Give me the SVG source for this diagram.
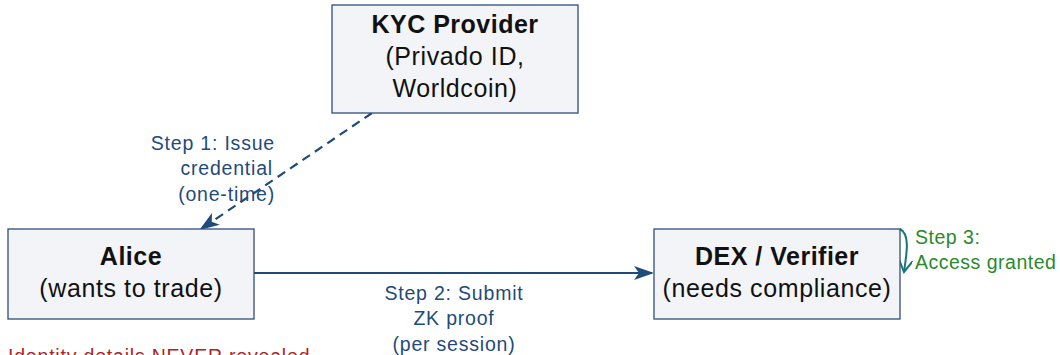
<svg xmlns="http://www.w3.org/2000/svg" width="1060" height="355" viewBox="0 0 1060 355">
<defs>
<style>
.box{fill:#f3f4f7;stroke:#2e4f7a;stroke-width:1.3}
.t{font-family:"Liberation Sans",Arial,sans-serif;font-size:25px;fill:#111;text-anchor:middle;letter-spacing:0.6px}
.b{font-weight:bold;letter-spacing:0.5px}
.lbl{font-family:"Liberation Sans",Arial,sans-serif;font-size:19.5px;fill:#1f4b7a;letter-spacing:0.8px}
.edge{fill:none;stroke:#1f4b7a;stroke-width:2.2}
</style>
<marker id="ahb" viewBox="0 0 20 14" refX="18" refY="7" markerWidth="20" markerHeight="14" markerUnits="userSpaceOnUse" orient="auto">
<path d="M0,0 L20,7 L0,14 L5,7 z" fill="#1f4b7a"/>
</marker>
<marker id="aht" viewBox="0 0 14 14" refX="12" refY="7" markerWidth="14" markerHeight="14" markerUnits="userSpaceOnUse" orient="auto">
<path d="M0,0 L12,7 L0,14" fill="none" stroke="#16777a" stroke-width="2"/>
</marker>
</defs>
<g id="connectors">
<path class="edge" d="M372,113 L201,229" stroke-dasharray="9,6" marker-end="url(#ahb)"/>
<path class="edge" d="M254,273 L652,273" marker-end="url(#ahb)"/>
<path d="M900,229 C910,234 907,252 904,272" fill="none" stroke="#16777a" stroke-width="2" marker-end="url(#aht)"/>
<text class="lbl" text-anchor="end"><tspan x="275" y="150">Step 1:  Issue</tspan><tspan x="273" y="175">credential</tspan><tspan x="275" y="201">(one-time)</tspan></text>
<text class="lbl" text-anchor="middle"><tspan x="454" y="300">Step 2:  Submit</tspan><tspan x="454" y="325">ZK proof</tspan><tspan x="454" y="351">(per session)</tspan></text>
<text class="lbl" style="fill:#2a8a2a;letter-spacing:0.5px"><tspan x="915" y="244">Step 3:</tspan><tspan x="915" y="269">Access granted</tspan></text>
</g>
<g id="kyc">
<rect class="box" x="332" y="5" width="246" height="108"/>
<text class="t b" x="455" y="33">KYC Provider</text>
<text class="t" x="455" y="65">(Privado ID,</text>
<text class="t" x="455" y="97">Worldcoin)</text>
</g>
<g id="alice">
<rect class="box" x="8" y="229" width="246" height="90"/>
<text class="t b" x="131" y="265">Alice</text>
<text class="t" x="131" y="297">(wants to trade)</text>
</g>
<g id="dex">
<rect class="box" x="654" y="229" width="246" height="90"/>
<text class="t b" x="777" y="265">DEX / Verifier</text>
<text class="t" x="777" y="297">(needs compliance)</text>
</g>
<text x="8" y="363" style="font-family:'Liberation Sans',Arial,sans-serif;font-size:19.5px;fill:#b22222;letter-spacing:0.8px">Identity details NEVER revealed</text>
</svg>
